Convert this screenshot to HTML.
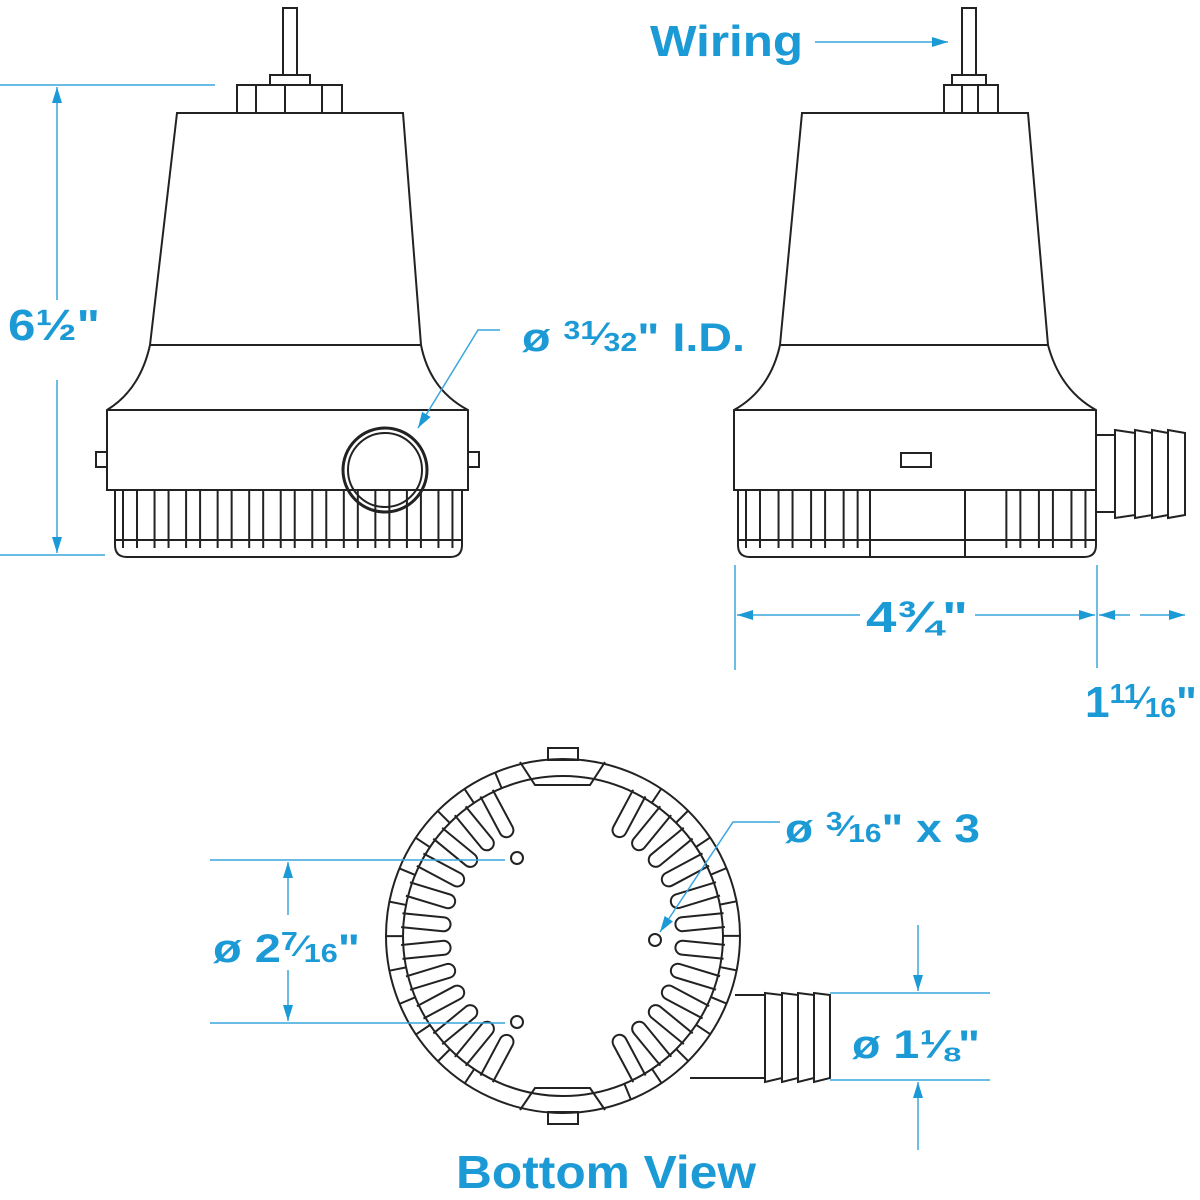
<!DOCTYPE html>
<html><head><meta charset="utf-8"><style>
html,body{margin:0;padding:0;background:#fff}
svg{display:block}
.t{font-family:"Liberation Sans",sans-serif;font-weight:bold;fill:#1b9ad6}
.k{fill:none;stroke:#222;stroke-width:2}
.b{fill:none;stroke:#3aa6dc;stroke-width:1.5}
</style></head><body>
<svg id="s" width="1200" height="1200" viewBox="0 0 1200 1200" xmlns="http://www.w3.org/2000/svg">
<defs>
<marker id="a2" markerWidth="16" markerHeight="10" refX="16" refY="5" orient="auto" markerUnits="userSpaceOnUse"><path d="M0,0 L16,5 L0,10z" fill="#1b9ad6"/></marker></defs>

<!-- LEFT PUMP -->
<g class="k">
<rect x="283" y="8" width="14" height="67"/>
<rect x="270" y="75" width="40" height="10"/>
<rect x="237" y="85" width="105" height="28"/>
<line x1="256" y1="85" x2="256" y2="113"/><line x1="285" y1="85" x2="285" y2="113"/><line x1="322" y1="85" x2="322" y2="113"/>
<path d="M177,113 L403,113 L421,345 Q430,390 468,410 L468,490 L107,490 L107,410 Q140,390 150,345 Z"/>
<line x1="150" y1="345" x2="421" y2="345"/>
<line x1="107" y1="410" x2="468" y2="410"/>
<rect x="96" y="452" width="11" height="15"/><rect x="468" y="452" width="11" height="15"/>
<path d="M115,490 L115,545 Q115,557 127,557 L450,557 Q462,557 462,545 L462,490"/>
<line x1="115" y1="540" x2="462" y2="540"/>
<circle cx="385" cy="470" r="42" stroke-width="3"/>
<circle cx="385" cy="470" r="37"/>
</g>
<g class="k" id="lf"></g>

<!-- RIGHT PUMP -->
<g class="k">
<rect x="962" y="8" width="14" height="67"/>
<rect x="952" y="75" width="34" height="10"/>
<rect x="944" y="85" width="54" height="28"/>
<line x1="962" y1="85" x2="962" y2="113"/><line x1="978" y1="85" x2="978" y2="113"/>
<path d="M802,113 L1028,113 L1048,345 Q1060,390 1096,410 L1096,490 L734,490 L734,410 Q770,390 780,345 Z"/>
<line x1="780" y1="345" x2="1048" y2="345"/>
<line x1="734" y1="410" x2="1096" y2="410"/>
<rect x="901" y="453" width="30" height="14"/>
<path d="M738,490 L738,545 Q738,557 750,557 L1084,557 Q1096,557 1096,545 L1096,490"/>
<line x1="738" y1="540" x2="1096" y2="540"/>
<line x1="870" y1="490" x2="870" y2="557"/><line x1="965" y1="490" x2="965" y2="557"/>
<path d="M1096,435 L1115,435 L1115,512 L1096,512"/>
<path d="M1115,430 L1135,433 L1135,515 L1115,518 Z"/>
<path d="M1135,430 L1152,433 L1152,515 L1135,518 Z"/>
<path d="M1152,430 L1168,433 L1168,515 L1152,518 Z"/>
<path d="M1168,430 L1185,433 L1185,515 L1168,518 Z"/>
</g>
<g class="k" id="rf"></g>

<!-- BOTTOM VIEW -->
<g class="k" id="bv">
<circle cx="563" cy="936" r="177"/>
<rect x="548" y="748" width="30" height="12"/>
<rect x="548" y="1112" width="30" height="12"/>
<path d="M520,762 L535,785 L590,785 L605,762"/>
<path d="M520,1110 L535,1088 L590,1088 L605,1110"/>
<path d="M735,995 L765,995 M690,1078 L765,1078"/>
<path d="M765,993 L782,995 L782,1078 L765,1082 Z"/>
<path d="M782,993 L798,995 L798,1078 L782,1082 Z"/>
<path d="M798,993 L814,995 L814,1078 L798,1082 Z"/>
<path d="M814,993 L830,995 L830,1078 L814,1082 Z"/>
<circle cx="517" cy="858" r="6"/><circle cx="655" cy="940" r="6"/><circle cx="517" cy="1022" r="6"/>
</g>

<!-- DIMENSIONS -->
<g class="b">
<line x1="0" y1="85" x2="215" y2="85"/><line x1="0" y1="555" x2="105" y2="555"/>
<line x1="57" y1="300" x2="57" y2="87" marker-end="url(#a2)"/>
<line x1="57" y1="380" x2="57" y2="553" marker-end="url(#a2)"/>
<path d="M500,330 L478,330 L418,428" marker-end="url(#a2)"/>
<line x1="815" y1="42" x2="948" y2="42" marker-end="url(#a2)"/>
<line x1="735" y1="565" x2="735" y2="670"/><line x1="1097" y1="565" x2="1097" y2="668"/>
<line x1="860" y1="615" x2="737" y2="615" marker-end="url(#a2)"/>
<line x1="975" y1="615" x2="1095" y2="615" marker-end="url(#a2)"/>
<line x1="1130" y1="615" x2="1099" y2="615" marker-end="url(#a2)"/>
<line x1="1140" y1="615" x2="1185" y2="615" marker-end="url(#a2)"/>
<line x1="210" y1="860" x2="505" y2="860"/><line x1="210" y1="1023" x2="505" y2="1023"/>
<line x1="288" y1="915" x2="288" y2="862" marker-end="url(#a2)"/>
<line x1="288" y1="970" x2="288" y2="1021" marker-end="url(#a2)"/>
<path d="M780,822 L733,822 L660,932" marker-end="url(#a2)"/>
<line x1="830" y1="993" x2="990" y2="993"/><line x1="830" y1="1080" x2="990" y2="1080"/>
<line x1="918" y1="925" x2="918" y2="991" marker-end="url(#a2)"/>
<line x1="918" y1="1150" x2="918" y2="1082" marker-end="url(#a2)"/>
</g>

<!-- TEXT -->
<text class="t" x="8" y="340" font-size="44" textLength="92" lengthAdjust="spacingAndGlyphs">6½"</text>
<text class="t" x="522" y="351" font-size="40" textLength="223" lengthAdjust="spacingAndGlyphs">ø <tspan font-size="26" dy="-12">31</tspan><tspan font-size="32" dy="6">⁄</tspan><tspan font-size="26" dy="6">32</tspan><tspan dy="0">" I.D.</tspan></text>
<text class="t" x="650" y="56" font-size="44" textLength="153" lengthAdjust="spacingAndGlyphs">Wiring</text>
<text class="t" x="866" y="632" font-size="44" textLength="102" lengthAdjust="spacingAndGlyphs">4¾"</text>
<text class="t" x="1085" y="717" font-size="44" textLength="112" lengthAdjust="spacingAndGlyphs">1<tspan font-size="28" dy="-14">11</tspan><tspan font-size="32" dy="6">⁄</tspan><tspan font-size="28" dy="8">16</tspan><tspan dy="0">"</tspan></text>
<text class="t" x="785" y="842" font-size="40" textLength="195" lengthAdjust="spacingAndGlyphs">ø <tspan font-size="26" dy="-12">3</tspan><tspan font-size="30" dy="6">⁄</tspan><tspan font-size="26" dy="6">16</tspan><tspan dy="0">" x 3</tspan></text>
<text class="t" x="213" y="962" font-size="40" textLength="147" lengthAdjust="spacingAndGlyphs">ø 2<tspan font-size="26" dy="-12">7</tspan><tspan font-size="30" dy="6">⁄</tspan><tspan font-size="26" dy="6">16</tspan><tspan dy="0">"</tspan></text>
<text class="t" x="852" y="1058" font-size="40" textLength="128" lengthAdjust="spacingAndGlyphs">ø 1⅛"</text>
<text class="t" x="456" y="1188" font-size="46" textLength="300" lengthAdjust="spacingAndGlyphs">Bottom View</text>
</svg>
<script>
var NS="http://www.w3.org/2000/svg";
function el(g,tag,at){var e=document.createElementNS(NS,tag);for(var k in at)e.setAttribute(k,at[k]);g.appendChild(e);}
function fins(id,x0,x1,skip){var g=document.getElementById(id);var n=Math.round((x1-x0)/33);var st=(x1-x0)/n;
for(var i=0;i<n;i++){var x=x0+i*st+8;if(skip&&x>skip[0]&&x<skip[1])continue;
el(g,"path",{d:"M"+x+",490 L"+x+",548 M"+(x+14)+",490 L"+(x+14)+",548"});}}
fins("lf",115,462,null);fins("rf",738,1096,[860,975]);
var g=document.getElementById("bv");var cx=563,cy=936;
el(g,"circle",{cx:cx,cy:cy,r:160});
for(var i=0;i<32;i++){var a=i*11.25+5.6;var d=((a%360)+360)%360;
if(Math.abs(d-90)<22||Math.abs(d-270)<22)continue;
var r=a*Math.PI/180,c=Math.cos(r),s=Math.sin(r),px=-s,py=c,w=7;
var r1=162,r2=120;
var ax=cx+c*r1,ay=cy+s*r1,bx=cx+c*r2,by=cy+s*r2;
el(g,"path",{d:"M"+(ax+px*w)+","+(ay+py*w)+" L"+(bx+px*w)+","+(by+py*w)+" A"+w+","+w+" 0 0 1 "+(bx-px*w)+","+(by-py*w)+" L"+(ax-px*w)+","+(ay-py*w)});
var rr=(a+5.6)*Math.PI/180;
el(g,"line",{x1:cx+Math.cos(rr)*160,y1:cy+Math.sin(rr)*160,x2:cx+Math.cos(rr)*177,y2:cy+Math.sin(rr)*177});}
</script>
</body></html>
